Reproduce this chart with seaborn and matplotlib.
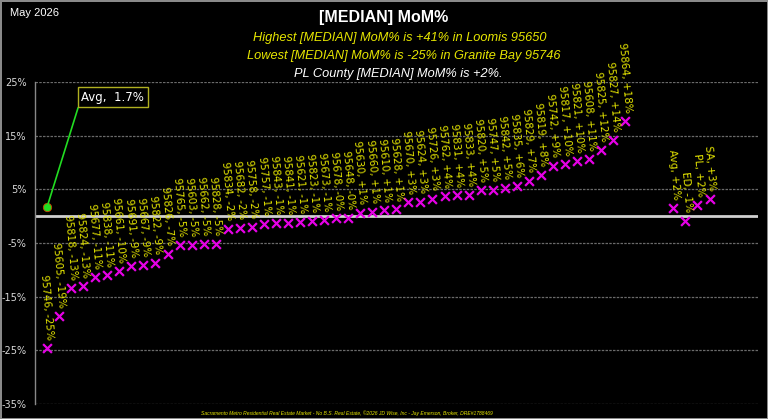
import pandas as pd
import numpy as np
import seaborn as sns
import matplotlib.pyplot as plt

# zip codes sorted by month-over-month change of the median
zips = ['95746', '95605', '95818', '95824', '95677', '95838', '95661', '95691',
        '95667', '95822', '95826', '95765', '95603', '95662', '95828', '95834',
        '95682', '95758', '95757', '95843', '95841', '95621', '95823', '95673',
        '95678', '95648', '95630', '95660', '95610', '95628', '95670', '95624',
        '95726', '95762', '95831', '95833', '95820', '95747', '95842', '95835',
        '95829', '95819', '95742', '95817', '95821', '95608', '95825', '95827',
        '95864']
mom = [-24.6, -18.7, -13.4, -13.0, -11.4, -11.0, -10.3, -9.2,
       -9.1, -8.7, -7.0, -5.4, -5.3, -5.2, -5.1, -2.4,
       -2.2, -2.0, -1.4, -1.3, -1.2, -1.0, -0.9, -0.7,
       -0.4, -0.3, 0.6, 0.8, 1.1, 1.3, 2.6, 2.7,
       3.3, 3.7, 3.9, 4.0, 4.8, 4.9, 5.3, 5.6,
       6.6, 7.7, 9.4, 9.8, 10.3, 10.7, 12.4, 14.2,
       17.8]

# county / summary points shown at the right
summary_names = ['Avg', 'ED', 'PL', 'SA']
summary_mom = [1.6, -0.9, 2.0, 3.2]

avg_all = 1.7
y_ticks = [25, 15, 5, -5, -15, -25, -35]

title = '[MEDIAN] MoM%'
sub1 = 'Highest [MEDIAN] MoM% is +41% in Loomis 95650'
sub2 = 'Lowest [MEDIAN] MoM% is -25% in Granite Bay 95746'
sub3 = 'PL County [MEDIAN] MoM% is +2%.'
footer = ('Sacramento Metro Residential Real Estate Market - No B.S. Real Estate, '
          '\u00a92026 JD Wise, Inc - Jay Emerson, Broker, DRE#1788469')

# build a table: zips first, then a gap of 3 slots, then the summary points
gap = 3
df = pd.DataFrame({'name': zips + summary_names, 'mom': mom + summary_mom})
df['pos'] = list(range(len(zips))) + [len(zips) + gap + i for i in range(len(summary_names))]

sns.set_style('dark')
plt.rcParams['font.family'] = ['DejaVu Sans']

fig = plt.figure(figsize=(7.68, 4.19), dpi=100, facecolor='black')
fig.patch.set_edgecolor('#8a8a8a')
fig.patch.set_linewidth(2)
ax = fig.add_axes([0.0456, 0.036, 0.941, 0.768])
ax.set_facecolor('black')

ylw = '#e6e600'
mag = '#e600e6'

sns.scatterplot(data=df, x='pos', y='mom', marker='x', color=mag, s=40,
                linewidth=1.6, ax=ax, zorder=4, legend=False)

for _, r in df.iterrows():
    ax.annotate(f"{r['name']}, {r['mom']:+.0f}%", (r['pos'], r['mom']),
                xytext=(2, 6), textcoords='offset points', rotation=-85,
                rotation_mode='anchor', ha='right', va='center',
                color=ylw, fontsize=7.4, annotation_clip=False, zorder=5)

# overall average marker
ax.plot([0], [avg_all], 'o', color='#22dd22', mec='#cc4400', mew=0.6, ms=6, zorder=6)
ax.annotate('Avg,  1.7%', (0, avg_all), xytext=(2.85, 22.2), textcoords='data',
            color='white', fontsize=8.5, va='center', ha='left',
            bbox=dict(boxstyle='square,pad=0.3', fc='black', ec='#b0b020', lw=1),
            arrowprops=dict(arrowstyle='-', color='#22dd22', lw=1.2,
                            shrinkA=0, shrinkB=0, relpos=(0, 0.5)),
            zorder=6)

ax.set_xlim(-1, 59)
ax.set_ylim(-35, 25)
ax.set_yticks(y_ticks)
ax.set_yticklabels([f'{t}%' for t in y_ticks], color='#d8d8d8', fontsize=7)
ax.set_xticks([])
ax.set_xlabel('')
ax.set_ylabel('')
ax.tick_params(axis='y', length=3, color='#888888', pad=3)
for t in y_ticks:
    ax.axhline(t, color='#6a6a6a', lw=0.9, ls=(0, (2, 1)), zorder=1)
ax.axhline(0, color='#d0d0d0', lw=2, zorder=2)
ax.grid(False)
for s in ['top', 'right', 'bottom']:
    ax.spines[s].set_visible(False)
ax.spines['left'].set_color('#888888')
ax.spines['left'].set_linewidth(1)

fig.text(0.013, 0.968, 'May 2026', color='white', fontsize=8,
         family='Liberation Sans', va='center', ha='left')
fig.text(0.5, 0.958, title, color='white', fontsize=11.5, fontweight='bold',
         family='Liberation Sans', ha='center', va='center')
fig.text(0.520, 0.909, sub1, color=ylw, fontsize=9.2, style='italic',
         family='Liberation Sans', ha='center', va='center')
fig.text(0.526, 0.866, sub2, color=ylw, fontsize=9.2, style='italic',
         family='Liberation Sans', ha='center', va='center')
fig.text(0.518, 0.823, sub3, color='white', fontsize=9.2, style='italic',
         family='Liberation Sans', ha='center', va='center')
fig.text(0.452, 0.014, footer, color=ylw, fontsize=3.6, style='italic',
         family='Liberation Sans', ha='center', va='center')

fig.savefig('out.png', dpi=100, facecolor=fig.get_facecolor(),
            edgecolor=fig.get_edgecolor())
